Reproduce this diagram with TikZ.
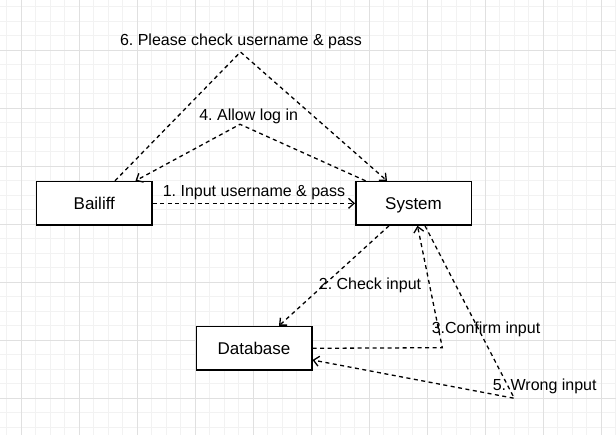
\documentclass[tikz,border=0pt]{standalone}
\usepackage{fontspec}
\setmainfont{Liberation Sans}
\usetikzlibrary{positioning,calc,arrows.meta}
\definecolor{gridminor}{HTML}{F2F2F2}
\definecolor{gridmajor}{HTML}{E0E0E0}
\frenchspacing
\tikzset{every picture/.style={font issue=\fontsize{16}{19}},
            font issue/.style={execute at begin picture={#1\selectfont}}
        }

\begin{document}
\begin{tikzpicture}[x=1pt,y=-1pt,
    box/.style={draw,line width=1.5pt,fill=white,minimum width=115.5pt,minimum height=43.5pt,text height=12.2pt,text depth=0pt,font=\fontsize{17}{20}\selectfont},
    msg/.style={draw,line width=1.3pt,dash pattern=on 4pt off 3.5pt,-{Straight Barb[length=5.5pt,width=10pt]}},
    lbl/.style={inner sep=0pt,text height=11.5pt,text depth=0pt}]
      \useasboundingbox (0,0) rectangle (616,435);
      % 方眼
      \fill[white] (0,0) rectangle (616,435);
      \foreach \x in {6.8,21.3,...,616} \draw[gridminor,line width=0.8pt] (\x,0) -- (\x,435);
      \foreach \y in {6.5,21,...,435} \draw[gridminor,line width=0.8pt] (0,\y) -- (616,\y);
      \foreach \x in {21.3,79.3,...,616} \draw[gridmajor,line width=0.8pt] (\x,0) -- (\x,435);
      \foreach \y in {50,108,...,435} \draw[gridmajor,line width=0.8pt] (0,\y) -- (616,\y);

      % 頂点の定義
      \node[box] (bailiff) at (94.3,203.3) {Bailiff};
      \node[box] (system) at (413.5,203.3) {System};
      \node[box] (database) at (254,348.3) {Database};
      \coordinate (top6) at (240.5,52);
      \coordinate (top4) at (240,124.3);
      \coordinate (bend3) at (442.3,347.7);
      \coordinate (bend5) at (514.3,398.3);

      % 辺の定義
      \draw[msg] (bailiff.east) -- (system.west);
      \draw[msg] ([xshift=-24.5pt]system.south) -- ([xshift=25pt]database.north);
      \draw[msg] (database.east) -- (bend3) -- ([xshift=4pt]system.south);
      \draw[msg] ([xshift=-48pt]system.north) -- (top4) -- ([xshift=41.2pt]bailiff.north);
      \draw[msg] ([xshift=11.5pt]system.south) -- (bend5) -- ([yshift=-11.7pt]database.east);
      \draw[msg] ([xshift=20.7pt]bailiff.north) -- (top6) -- ([xshift=-26.5pt]system.north);

      % ラベル
      \node[lbl] (l1) at (254,190.7) {1. Input username \& pass};
      \node[lbl] (l2) at (370,284) {2. Check input};
      \node[lbl] (l3) at (486,327.3) {3.Confirm input};
      \node[lbl] (l4) at (248.7,115) {4. Allow log in};
      \node[lbl] (l5) at (544.7,385) {5. Wrong input};
      \node[lbl] (l6) at (241,39.3) {6. Please check username \& pass};
    \end{tikzpicture}
\end{document}
